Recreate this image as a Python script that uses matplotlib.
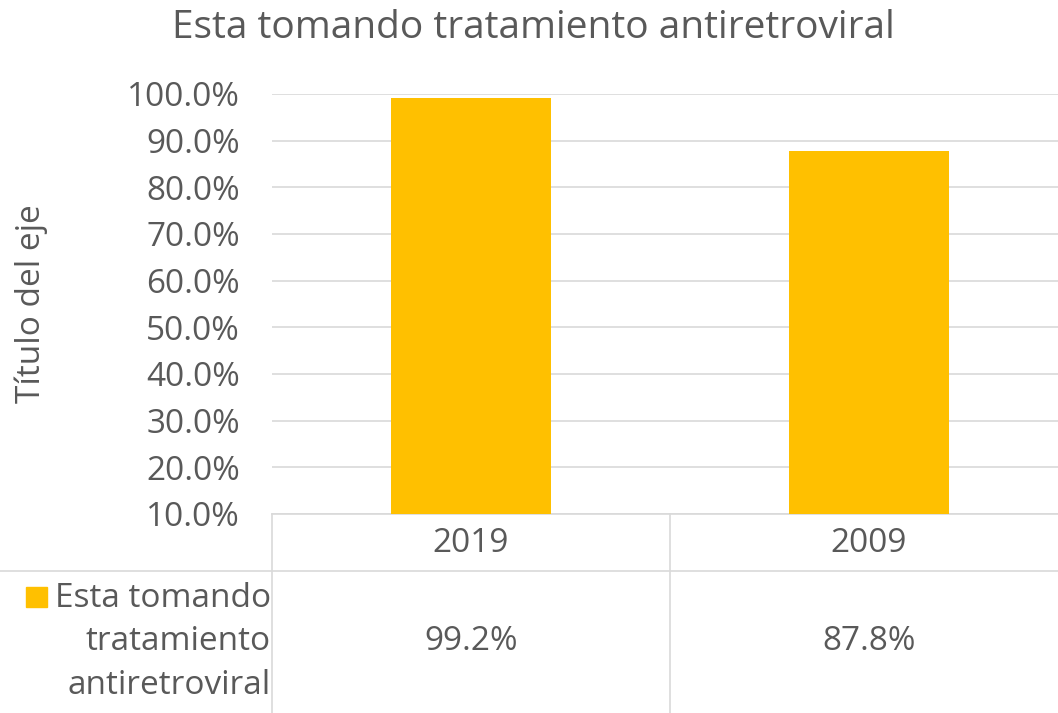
import matplotlib.pyplot as plt
import matplotlib as mpl
from matplotlib.lines import Line2D
from matplotlib.patches import Rectangle
from matplotlib.ticker import FuncFormatter
import matplotlib.transforms as mtransforms

mpl.rcParams['font.family'] = ['Open Sans', 'DejaVu Sans']

# Data
categories = ['2019', '2009']
values = [0.992, 0.878]
series_name = 'Esta tomando\ntratamiento\nantiretroviral'
title = 'Esta tomando tratamiento antiretroviral'
ylabel = 'Título del eje'

text_color = '#595959'
grid_color = '#D9D9D9'
bar_color = '#FFC000'
fs = 24

W, H = 1058, 713
fig = plt.figure(figsize=(W / 100, H / 100), dpi=100)
# plot area in pixels: x 272..1068, y 94..514
ax = fig.add_axes([272 / W, 1 - 514 / H, 796 / W, 420 / H])

x = list(range(len(categories)))
ax.bar(x, values, width=0.4, color=bar_color, zorder=3, bottom=0)

ax.set_xlim(-0.5, len(categories) - 0.5)
ax.set_ylim(0.1, 1.0)
ax.set_yticks([i / 10 for i in range(1, 11)])
ax.yaxis.set_major_formatter(FuncFormatter(lambda v, p: f'{v * 100:.1f}%'))
ax.tick_params(axis='y', length=0, labelsize=fs, labelcolor=text_color, pad=23)
ax.set_xticks([])
ax.grid(axis='y', color=grid_color, linewidth=1.2, zorder=0)
for s in ['top', 'right', 'left']:
    ax.spines[s].set_visible(False)
ax.spines['bottom'].set_color(grid_color)
ax.spines['bottom'].set_linewidth(1.2)

fig.text(533 / W, 1 - 28 / H, title, ha='center', va='center', fontsize=28, color=text_color)
fig.text(31 / W, 1 - 304 / H, ylabel, ha='center', va='center', rotation=90, fontsize=fs, color=text_color)

# data table
tf = fig.transFigure
fig.add_artist(Line2D([0, 1], [1 - 571 / H, 1 - 571 / H], transform=tf, color=grid_color, lw=1.2))
fig.add_artist(Line2D([272 / W, 272 / W], [1 - 514 / H, 0], transform=tf, color=grid_color, lw=1.2))
blend = mtransforms.blended_transform_factory(ax.transData, tf)
for i in range(len(categories) - 1):
    fig.add_artist(Line2D([i + 0.5, i + 0.5], [1 - 514 / H, 0], transform=blend, color=grid_color, lw=1.2))
for i, (c, v) in enumerate(zip(categories, values)):
    fig.text(i, 1 - 543 / H, c, transform=blend, ha='center', va='center', fontsize=fs, color=text_color)
    fig.text(i, 1 - 642 / H, f'{v * 100:.1f}%', transform=blend, ha='center', va='center', fontsize=fs, color=text_color)

fig.add_artist(Rectangle((26 / W, 1 - 607 / H), 21 / W, 20 / H, transform=tf, color=bar_color))
fig.text(163 / W, 1 - 642 / H, series_name, ha='center', va='center', fontsize=fs, color=text_color,
         multialignment='right', linespacing=1.43)

plt.savefig('out.png', dpi=100)
